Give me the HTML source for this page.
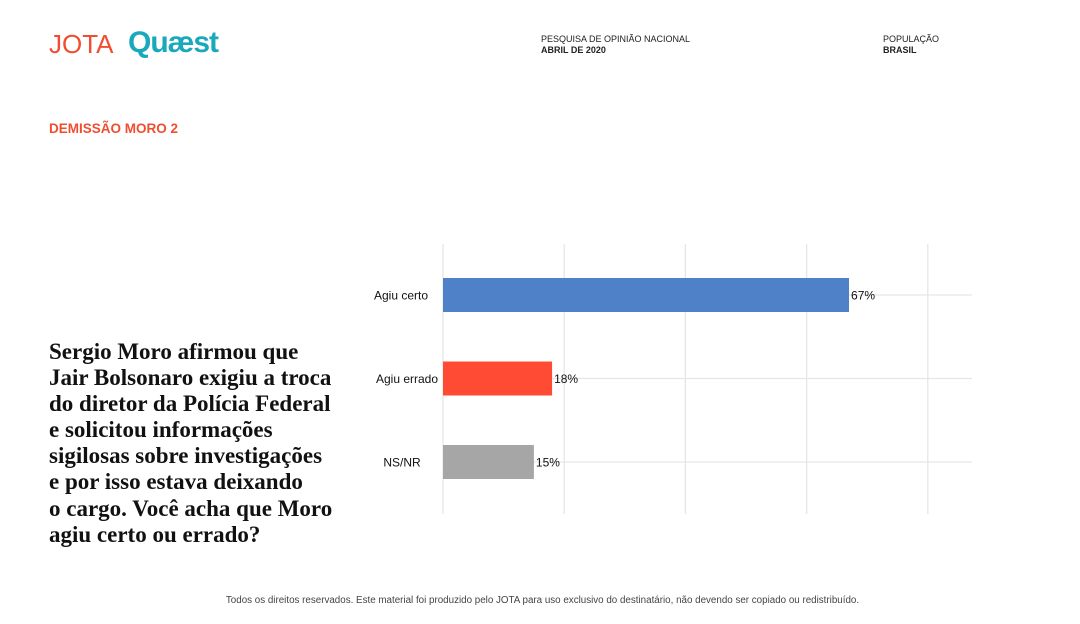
<!DOCTYPE html>
<html><head><meta charset="utf-8"><style>
body{margin:0;width:1080px;height:624px;background:#fff;position:relative;overflow:hidden;font-family:"Liberation Sans",sans-serif}
.a{position:absolute}
</style></head><body>
<div class="a" style="left:49px;top:29px;font-size:26px;color:#f04e30;font-weight:300">JOTA</div>
<div class="a" style="left:128px;top:26px;font-size:30px;color:#1aa9bc;font-weight:bold;letter-spacing:-1px">Quæst</div>
<div class="a" style="left:541px;top:34px;font-size:9px;color:#222;line-height:11px">PESQUISA DE OPINIÃO NACIONAL<br><b>ABRIL DE 2020</b></div>
<div class="a" style="left:883px;top:34px;font-size:9px;color:#222;line-height:11px">POPULAÇÃO<br><b>BRASIL</b></div>
<div class="a" style="left:49px;top:121px;font-size:13.5px;color:#f04e30;font-weight:bold">DEMISSÃO MORO 2</div>
<div class="a" style="left:49px;top:339px;width:320px;font-family:'Liberation Serif',serif;font-size:23px;font-weight:bold;line-height:26.1px;color:#111;white-space:nowrap">Sergio Moro afirmou que<br>Jair Bolsonaro exigiu a troca<br>do diretor da Polícia Federal<br>e solicitou informações<br>sigilosas sobre investigações<br>e por isso estava deixando<br>o cargo. Você acha que Moro<br>agiu certo ou errado?</div>
<svg class="a" style="left:0;top:0" width="1080" height="624">
<g id="grid"></g><g id="bars"></g>
</svg>
<div class="a" style="left:0;width:1085px;top:595px;text-align:center;font-size:9.8px;color:#444">Todos os direitos reservados. Este material foi produzido pelo JOTA para uso exclusivo do destinatário, não devendo ser copiado ou redistribuído.</div>
<script>
const categories=["Agiu certo","Agiu errado","NS/NR"];
const values=[67,18,15];
const colors=["#4f81c9","#ff4b33","#a6a6a6"];
const ticks=[0,20,40,60,80];
const ns="http://www.w3.org/2000/svg";
const x=v=>443+v*6.06;
const y=i=>295+i*83.5;
const labelCenters=[401,407,402];
const grid=document.getElementById('grid'),bars=document.getElementById('bars');
function mk(tag,at,p){const e=document.createElementNS(ns,tag);for(const k in at)e.setAttribute(k,at[k]);p.appendChild(e);return e;}
ticks.forEach(t=>{const l=mk('line',{x1:x(t),x2:x(t),y1:244,y2:514,stroke:'#e6e6e6','stroke-width':1.3},grid);

});
categories.forEach((c,i)=>{const l=mk('line',{x1:443,x2:972,y1:y(i),y2:y(i),stroke:'#e6e6e6','stroke-width':1.3},grid);


const r=mk('rect',{x:443,y:y(i)-17,width:x(values[i])-443,height:34,fill:colors[i]},bars);


const t=mk('text',{x:x(values[i])+2,y:y(i)+4.5,'font-size':12,fill:'#111'},bars);t.textContent=values[i]+'%';


const lb=mk('text',{x:labelCenters[i],y:y(i)+4.5,'font-size':12,fill:'#111','text-anchor':'middle'},bars);lb.textContent=c;

});
</script>
</body></html>
